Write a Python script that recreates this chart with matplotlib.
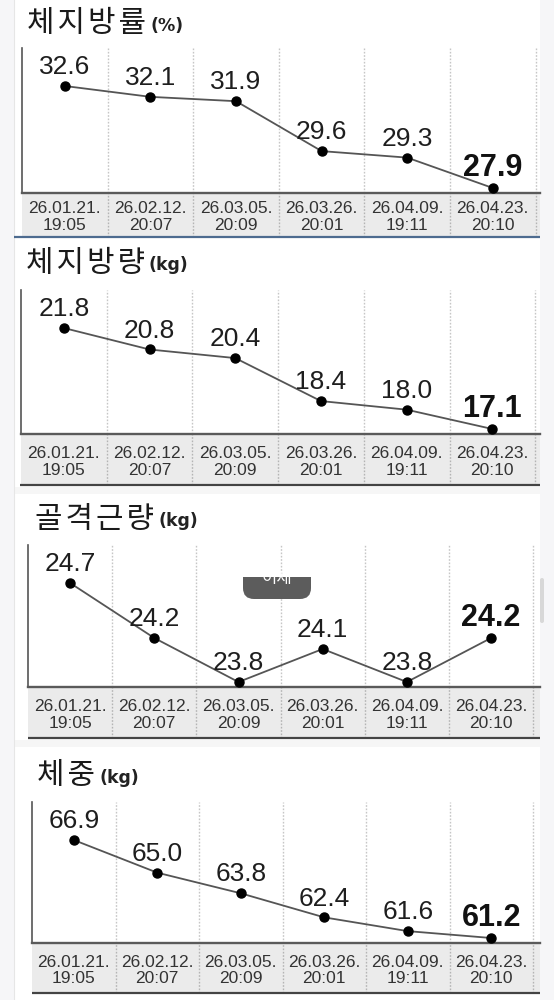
import matplotlib
matplotlib.use("Agg")
import matplotlib.pyplot as plt
from matplotlib.patches import Rectangle, FancyBboxPatch

# ---------------- data ----------------
dates = ["26.01.21.", "26.02.12.", "26.03.05.", "26.03.26.", "26.04.09.", "26.04.23."]
times = ["19:05", "20:07", "20:09", "20:01", "19:11", "20:10"]

titles = ["체지방률", "체지방량", "골격근량", "체중"]
units = ["(%)", "(kg)", "(kg)", "(kg)"]

body_fat_pct = [32.6, 32.1, 31.9, 29.6, 29.3, 27.9]
body_fat_kg = [21.8, 20.8, 20.4, 18.4, 18.0, 17.1]
skeletal_muscle_kg = [24.7, 24.2, 23.8, 24.1, 23.8, 24.2]
weight_kg = [66.9, 65.0, 63.8, 62.4, 61.6, 61.2]

series = [body_fat_pct, body_fat_kg, skeletal_muscle_kg, weight_kg]

# ---------------- layout (pixels) ----------------
W, H = 554, 1000
RIGHT = 540
layout = [
    dict(L=22, T=48, B=193, line=237, colw=85.6, tx=27, ty=24, lc="#4d6b8f", lx0=14),
    dict(L=21, T=290, B=434, line=485, colw=85.7, tx=26, ty=263, lc="#444444", lx0=20),
    dict(L=28, T=545, B=687, line=738, colw=84.2, tx=35, ty=519, lc="#444444", lx0=28),
    dict(L=32, T=802, B=943, line=993, colw=83.5, tx=37, ty=776, lc="#444444", lx0=32),
]

fig = plt.figure(figsize=(W / 100, H / 100), dpi=100, facecolor="#f6f6f8")


def rect(x0, y0, x1, y1):
    return [x0 / W, 1 - y1 / H, (x1 - x0) / W, (y1 - y0) / H]


# background card
bg = fig.add_axes([0, 0, 1, 1], zorder=-10)
bg.set_xlim(0, W)
bg.set_ylim(H, 0)
bg.axis("off")
bg.add_patch(Rectangle((14, 0), RIGHT - 14, H, fc="white", ec="none"))
bg.plot([14, 14], [0, H], color="#e6e6e6", lw=0.8)
for y0, y1 in [(487, 494), (740, 747)]:
    bg.add_patch(Rectangle((14, y0), RIGHT - 14, y1 - y0, fc="#f6f6f6", ec="none"))

# overlay axes
ov = fig.add_axes([0, 0, 1, 1], zorder=10)
ov.set_xlim(0, W)
ov.set_ylim(H, 0)
ov.axis("off")
ov.patch.set_visible(False)

renderer = fig.canvas.get_renderer()
num_font = ["Liberation Sans", "DejaVu Sans"]
kr_font = ["Noto Sans CJK KR", "DejaVu Sans"]

for vals, title, unit, lay in zip(series, titles, units, layout):
    L, T, B = lay["L"], lay["T"], lay["B"]
    n = len(vals)
    xmax = (RIGHT - L) / lay["colw"]
    xs = [i + 0.5 for i in range(n)]

    ax = fig.add_axes(rect(L, T, RIGHT, B), zorder=2)
    ax.set_xlim(0, xmax)
    lo, hi = min(vals), max(vals)
    span_px = (B - T) - 43
    scale = (hi - lo) / span_px
    ax.set_ylim(lo - 5 * scale, hi + 38 * scale)
    ax.set_xticks([])
    ax.set_yticks([])
    for s in ("top", "right"):
        ax.spines[s].set_visible(False)
    ax.spines["left"].set_color("#555555")
    ax.spines["left"].set_linewidth(1.2)
    ax.spines["bottom"].set_color("#5a5a5a")
    ax.spines["bottom"].set_linewidth(1.7)
    for b in range(1, n + 1):
        ax.axvline(b, color="#c6c6c6", ls=(0, (1.2, 1.2)), lw=1.0, zorder=1)
    ax.plot(xs, vals, color="#555555", lw=1.3, marker="o", ms=6.5,
            mfc="black", mec="black", zorder=3)
    for i, v in enumerate(vals):
        last = i == n - 1
        ax.annotate(f"{v:.1f}", (xs[i], v), xytext=(0, 8.5), textcoords="offset points",
                    ha="center", va="baseline",
                    fontsize=22 if last else 19,
                    fontweight="bold" if last else "normal",
                    color="#111111" if last else "#1e1e1e",
                    family=num_font, zorder=4)

    # date band
    band = fig.add_axes(rect(L, B, RIGHT, lay["line"]), zorder=1)
    band.set_xlim(0, xmax)
    band.set_ylim(0, 1)
    band.set_facecolor("#ebebeb")
    band.set_xticks([])
    band.set_yticks([])
    for s in band.spines.values():
        s.set_visible(False)
    for b in range(1, n + 1):
        band.axvline(b, color="#b4b4b4", ls=(0, (1.2, 1.2)), lw=1.0)
    for i, (d, t) in enumerate(zip(dates, times)):
        band.text(xs[i], 0.45, f"{d}\n{t}", ha="center", va="center",
                  fontsize=12.5, color="#333333", family=num_font, linespacing=1.15)

    # bottom line under band
    ov.plot([lay["lx0"], RIGHT], [lay["line"], lay["line"]], color=lay["lc"], lw=1.6,
            solid_capstyle="butt")

    # title (slightly letter-spaced)
    tt = fig.text(lay["tx"] / W, 1 - lay["ty"] / H, "\u200a".join(title), fontsize=21.5,
                  family=kr_font, va="center", ha="left", color="#1a1a1a")
    bb = tt.get_window_extent(renderer)
    fig.text((bb.x1 + 4) / W, 1 - (lay["ty"] + 2) / H, unit, fontsize=12.5,
             fontweight="bold", family=["DejaVu Sans"], va="center", ha="left",
             color="#222222")

# floating button (partially hidden) and scrollbar
clip = Rectangle((230, 577), 100, 30, transform=ov.transData)
btn = FancyBboxPatch((243, 555), 68, 44, boxstyle="round,pad=0,rounding_size=11",
                     fc="#5c5c5c", ec="none", zorder=5)
ov.add_patch(btn)
btn.set_clip_path(clip)
bt = ov.text(277, 578, "이제", color="white", fontsize=12, ha="center", va="center",
             family=kr_font, zorder=6)
bt.set_clip_path(clip)
ov.add_patch(FancyBboxPatch((540, 578), 4, 45, boxstyle="round,pad=0,rounding_size=2",
                            fc="#d8d8d8", ec="none"))

fig.savefig("out.png", dpi=100, facecolor=fig.get_facecolor())
